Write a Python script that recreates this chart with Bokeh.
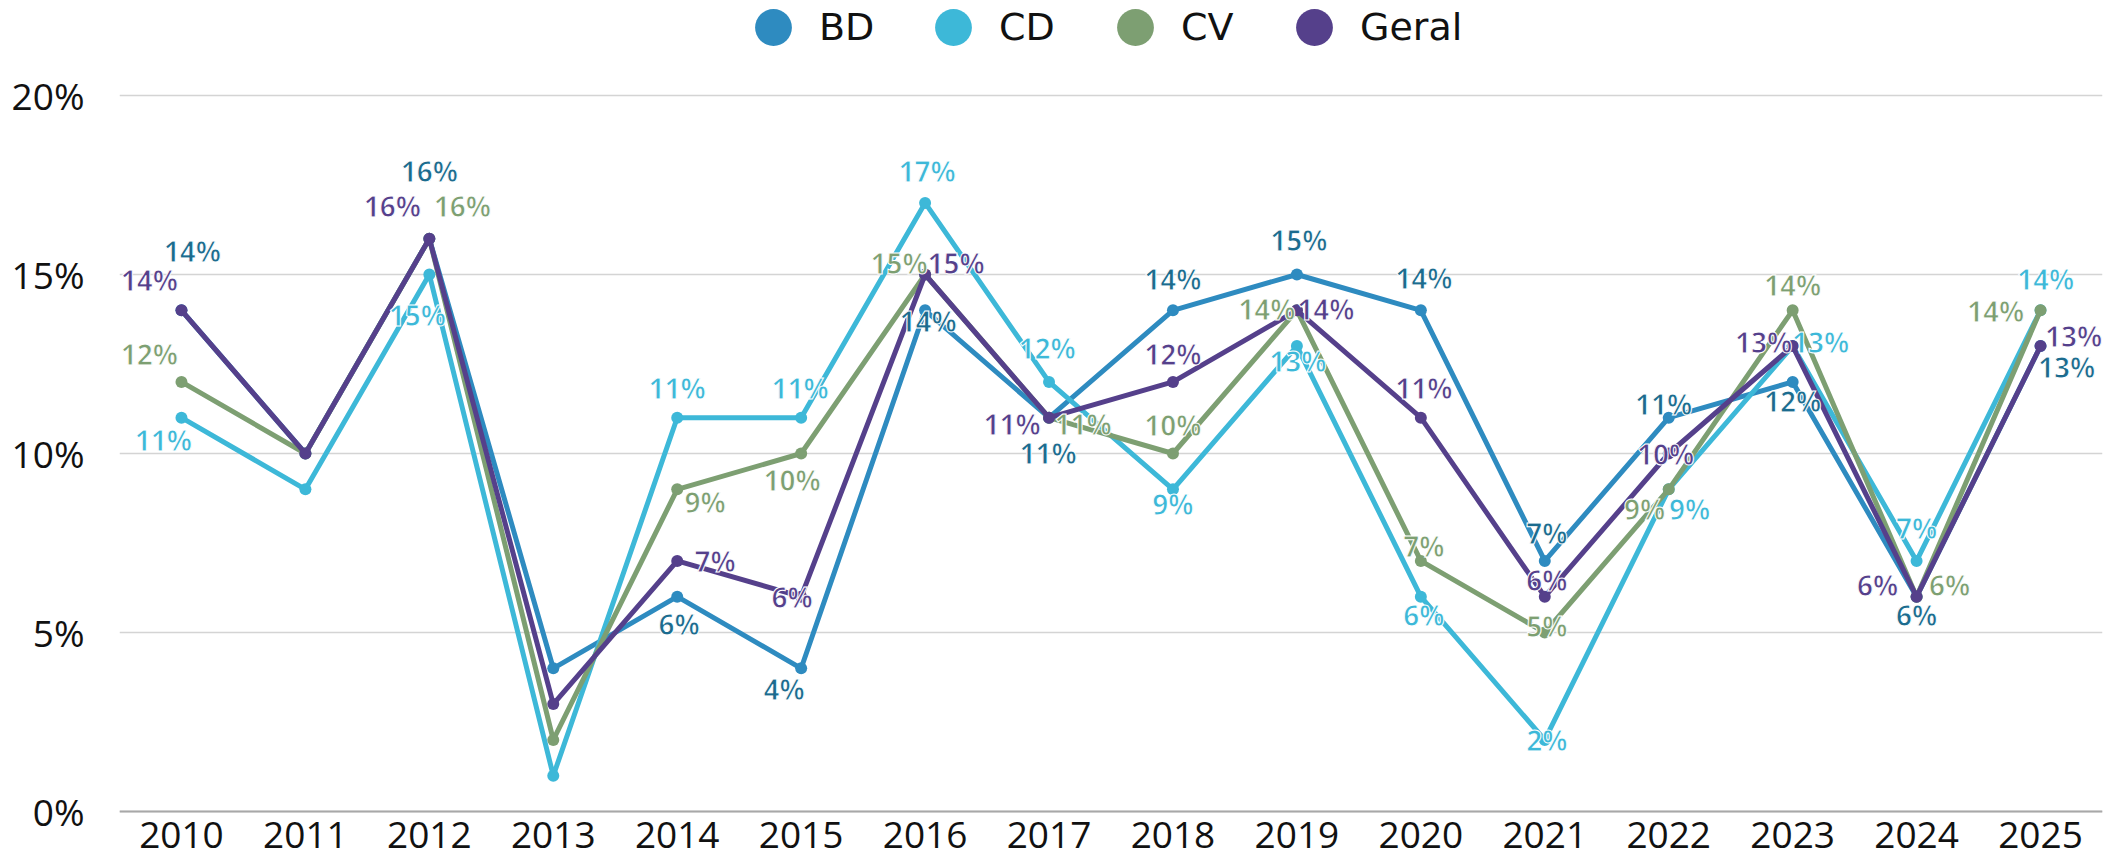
from bokeh.plotting import figure
from bokeh.models import (ColumnDataSource, Range1d, FactorRange, Legend, LegendItem,
                          FixedTicker, PrintfTickFormatter, Text)
from bokeh.core.properties import value
from bokeh.embed import file_html
from bokeh.resources import INLINE

# ---------------- data ----------------
years = [str(y) for y in range(2010, 2026)]
series_names = ["BD", "CD", "CV", "Geral"]
bd    = [14, 10, 16, 4, 6, 4, 14, 11, 14, 15, 14, 7, 11, 12, 6, 13]
cd    = [11,  9, 15, 1, 11, 11, 17, 12, 9, 13, 6, 2, 9, 13, 7, 14]
cv    = [12, 10, 16, 2, 9, 10, 15, 11, 10, 14, 7, 5, 9, 14, 6, 14]
geral = [14, 10, 16, 3, 7, 6, 15, 11, 12, 14, 11, 6, 10, 13, 6, 13]
y_ticks = [0, 5, 10, 15, 20]

# ---------------- styles ----------------
line_colors  = {"BD": "#2E8BC0", "CD": "#3DB8D8", "CV": "#7D9F72", "Geral": "#55408B"}
label_colors = {"BD": "#1C6B8E", "CD": "#3DB8D8", "CV": "#7D9F72", "Geral": "#55408B"}
legend_circle_x = {"BD": 773, "CD": 953, "CV": 1135, "Geral": 1314}   # screen px

# label placement (screen px offset from the point; None = no label)
label_offsets = {
    "BD": [(11, -59), None, (0, -68), None, (2, 27), (-17, 21), (3, 11), (-1, 35),
           (0, -31), (2, -35), (3, -32), (2, -28), (-5, -14), (0, 19), (0, 18), (26, 21)],
    "CD": [(-18, 22), None, (-12, 40), None, (0, -30), (-1, -30), (2, -32), (-2, -34),
           (0, 15), (1, 15), (3, 18), (2, 0), (21, 20), (28, -4), (0, -33), (5, -31)],
    "CV": [(-32, -28), None, (33, -33), None, (28, 13), (-9, 26), (-26, -12), (34, 6),
           (0, -29), (-30, -1), (3, -15), (2, -7), (-24, 20), (0, -25), (33, -12), (-45, 1)],
    "Geral": [(-32, -30), None, (-37, -33), None, (38, 0), (-9, 0), (31, -12), (-37, 6),
              (0, -28), (29, -1), (3, -30), (2, -17), (-3, 0), (-29, -4), (-39, -12), (33, -10)],
}

data = {"BD": bd, "CD": cd, "CV": cv, "Geral": geral}

W, H = 2120, 862
FRAME_LEFT, FRAME_RIGHT = 119, 2102
ZERO_Y, TWENTY_Y = 811, 95
PX_PER = (ZERO_Y - TWENTY_Y) / 20.0
Y_TOP = ZERO_Y / PX_PER
Y_BOT = -(H - ZERO_Y) / PX_PER

p = figure(x_range=FactorRange(factors=years, range_padding=0),
           y_range=Range1d(Y_BOT, Y_TOP),
           width=W, height=H,
           min_border_left=FRAME_LEFT, min_border_right=W - FRAME_RIGHT,
           min_border_top=0, min_border_bottom=0,
           output_backend="svg", toolbar_location=None)
p.outline_line_color = None
p.background_fill_color = "white"
p.border_fill_color = "white"

# axes
p.xgrid.grid_line_color = None
p.ygrid.ticker = FixedTicker(ticks=y_ticks)
p.ygrid.grid_line_color = "#D4D4D4"
p.ygrid.grid_line_width = 1.5
p.yaxis.ticker = FixedTicker(ticks=y_ticks)
p.yaxis.formatter = PrintfTickFormatter(format="%d%%")
p.yaxis.axis_line_color = None
p.yaxis.major_tick_line_color = None
p.yaxis.minor_tick_line_color = None
p.yaxis.major_label_standoff = 29
p.xaxis.fixed_location = 0
p.xaxis.axis_line_color = "#A8A8A8"
p.xaxis.axis_line_width = 2
p.xaxis.major_tick_line_color = None
p.xaxis.minor_tick_line_color = None
p.xaxis.major_label_standoff = 4
for ax in (p.xaxis, p.yaxis):
    ax.major_label_text_font = "Open Sans"
    ax.major_label_text_font_size = "37px"
    ax.major_label_text_color = "#111111"

# lines + markers
scatter_renderers = {}
for name in series_names:
    src = ColumnDataSource(dict(x=years, y=data[name]))
    p.line(x="x", y="y", source=src, line_color=line_colors[name], line_width=5)
    scatter_renderers[name] = p.scatter(x="x", y="y", source=src, size=12,
                                        fill_color=line_colors[name], line_color=None)

# data labels
lx, ly, lt, lc, ldx, ldy = [], [], [], [], [], []
for name in series_names:
    for yr, v, off in zip(years, data[name], label_offsets[name]):
        if off is None:
            continue
        lx.append(yr); ly.append(v); lt.append(f"{v}%")
        lc.append(label_colors[name]); ldx.append(off[0]); ldy.append(off[1])
lsrc = ColumnDataSource(dict(x=lx, y=ly, text=lt, color=lc, dx=ldx, dy=ldy))
text_kwargs = dict(x="x", y="y", text="text", source=lsrc, x_offset="dx", y_offset="dy",
                   text_color="color", text_align="center", text_baseline="middle",
                   text_font=value("Open Sans"), text_font_size="28px", text_font_style="bold")
if "text_outline_color" in Text.properties():
    text_kwargs["text_outline_color"] = "white"
p.text(**text_kwargs)

# legend: one single-item legend per series so each circle sits exactly where wanted
for name in series_names:
    lg = Legend(items=[LegendItem(label=name, renderers=[scatter_renderers[name]])],
                orientation="horizontal",
                location=(legend_circle_x[name] - 46 - FRAME_LEFT, H - (27 + 46)),
                glyph_width=92, glyph_height=92, label_standoff=-8, spacing=0,
                padding=0, margin=0, border_line_color=None, background_fill_alpha=0,
                label_text_font="DejaVu Sans", label_text_font_size="38px",
                label_text_color="#111111")
    p.add_layout(lg)

open("out.html", "w").write(file_html(p, INLINE))
